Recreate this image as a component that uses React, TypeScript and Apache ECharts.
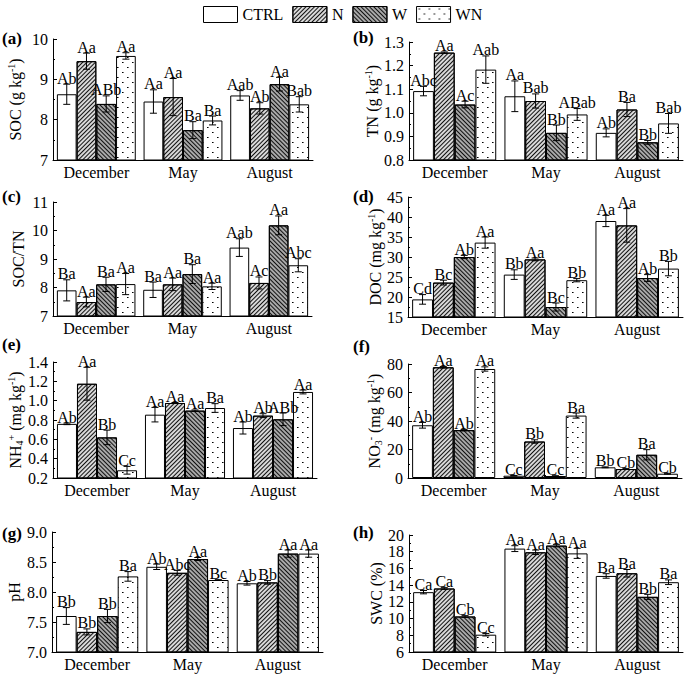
import React, { useEffect, useRef } from 'react';
import * as echarts from 'echarts';

const FONT = 'Liberation Serif';
const MONTHS = ['December', 'May', 'August'];
const TREATMENTS = ['CTRL', 'N', 'W', 'WN'];

// Rows: CTRL, N, W, WN ; columns: December, May, August
const socMean = [[8.63, 8.45, 8.6], [9.45, 8.56, 8.28], [8.39, 7.74, 8.88], [9.58, 7.98, 8.38]];
const socErr = [[0.25, 0.29, 0.12], [0.2, 0.46, 0.14], [0.2, 0.21, 0.17], [0.08, 0.11, 0.19]];
const socLetters = [['Ab', 'Aa', 'Aab'], ['Aa', 'Aa', 'Ab'], ['ABb', 'Ba', 'Aa'], ['Aa', 'Ba', 'Bab']];

const tnMean = [[1.092, 1.07, 0.915], [1.255, 1.05, 1.014], [1.035, 0.915, 0.875], [1.183, 0.993, 0.955]];
const tnErr = [[0.02, 0.065, 0.017], [0.003, 0.03, 0.03], [0.014, 0.033, 0.008], [0.058, 0.025, 0.042]];
const tnLetters = [['Abc', 'Aa', 'Ab'], ['Aa', 'Bab', 'Ba'], ['Ac', 'Bb', 'Bb'], ['Aab', 'ABab', 'Bab']];

const ratioMean = [[7.9, 7.92, 9.4], [7.49, 8.11, 8.16], [8.11, 8.47, 10.18], [8.12, 8.04, 8.78]];
const ratioErr = [[0.37, 0.27, 0.31], [0.17, 0.22, 0.21], [0.25, 0.33, 0.33], [0.37, 0.11, 0.23]];
const ratioLetters = [['Ba', 'Ba', 'Aab'], ['Aa', 'Aa', 'Ac'], ['Ba', 'Ba', 'Aa'], ['Aa', 'Aa', 'Abc']];

const docMean = [[19.4, 25.6, 39.0], [23.6, 29.4, 37.9], [30.0, 17.5, 24.75], [33.6, 24.2, 27.1]];
const docErr = [[1.2, 1.2, 1.4], [0.6, 0.35, 4.2], [0.4, 1.0, 0.85], [1.4, 0.4, 1.8]];
const docLetters = [['Cd', 'Bb', 'Aa'], ['Bc', 'Aa', 'Aa'], ['Ab', 'Bc', 'Ab'], ['Aa', 'Bb', 'Bb']];

const nh4Mean = [[0.76, 0.855, 0.717], [1.175, 0.976, 0.845], [0.62, 0.897, 0.807], [0.28, 0.924, 1.09]];
const nh4Err = [[0.008, 0.075, 0.062], [0.17, 0.005, 0.02], [0.075, 0.007, 0.065], [0.04, 0.045, 0.02]];
const nh4Letters = [['Ab', 'Aa', 'Ab'], ['Aa', 'Aa', 'Ab'], ['Bb', 'Aa', 'ABb'], ['Cc', 'Ba', 'Aa']];

const no3Mean = [[37.0, 1.6, 7.5], [77.7, 25.6, 6.3], [33.6, 1.4, 16.3], [76.5, 43.8, 3.0]];
const no3Err = [[2.0, 0.2, 0.3], [0.5, 1.2, 0.3], [0.5, 0.2, 3.6], [1.5, 1.8, 0.3]];
const no3Letters = [['Ab', 'Cc', 'Bb'], ['Aa', 'Bb', 'Cb'], ['Ab', 'Cc', 'Ba'], ['Aa', 'Ba', 'Cb']];

const phMean = [[7.6, 8.42, 8.145], [7.335, 8.32, 8.16], [7.6, 8.55, 8.64], [8.26, 8.2, 8.64]];
const phErr = [[0.14, 0.045, 0.03], [0.05, 0.04, 0.03], [0.11, 0.025, 0.06], [0.08, 0.005, 0.06]];
const phLetters = [['Bb', 'Ab', 'Ab'], ['Bb', 'Abc', 'Bb'], ['Bb', 'Aa', 'Aa'], ['Ba', 'Bc', 'Aa']];

const swcMean = [[13.16, 18.37, 15.1], [13.6, 17.93, 15.42], [10.25, 18.73, 12.6], [8.07, 17.8, 14.35]];
const swcErr = [[0.2, 0.35, 0.27], [0.1, 0.27, 0.45], [0.1, 0.15, 0.3], [0.15, 0.6, 0.28]];
const swcLetters = [['Ca', 'Aa', 'Ba'], ['Ca', 'Aa', 'Ba'], ['Cb', 'Aa', 'Bb'], ['Cc', 'Aa', 'Ba']];

// axis settings per panel: [min, max, interval, decimals]
const socAxis = [7, 10, 1, 0];
const tnAxis = [0.8, 1.3, 0.1, 1];
const ratioAxis = [7, 11, 1, 0];
const docAxis = [15, 45, 5, 0];
const nh4Axis = [0.2, 1.4, 0.2, 1];
const no3Axis = [0, 80, 20, 0];
const phAxis = [7, 9, 0.5, 1];
const swcAxis = [6, 20, 2, 0];

const PANELS = [
  { tag: '(a)', mean: socMean, err: socErr, letters: socLetters, axis: socAxis, name: '{n|SOC (g kg}{s|-1}{n|)}', grid: [53, 39, 260, 121], nameGap: 29, tagPos: [2, 38] },
  { tag: '(b)', mean: tnMean, err: tnErr, letters: tnLetters, axis: tnAxis, name: '{n|TN (g kg}{s|-1}{n|)}', grid: [409, 42, 274, 118], nameGap: 23, tagPos: [353, 37] },
  { tag: '(c)', mean: ratioMean, err: ratioErr, letters: ratioLetters, axis: ratioAxis, name: '{n|SOC/TN}', grid: [53, 202, 259, 114], nameGap: 26, tagPos: [2, 196] },
  { tag: '(d)', mean: docMean, err: docErr, letters: docLetters, axis: docAxis, name: '{n|DOC (mg kg}{s|-1}{n|)}', grid: [408, 197, 275, 120], nameGap: 23, tagPos: [353, 196] },
  { tag: '(e)', mean: nh4Mean, err: nh4Err, letters: nh4Letters, axis: nh4Axis, name: '{n|NH}{b|4}{s|+}{n| (mg kg}{s|-1}{n|)}', grid: [53, 362, 264, 116], nameGap: 29, tagPos: [2, 344] },
  { tag: '(f)', mean: no3Mean, err: no3Err, letters: no3Letters, axis: no3Axis, name: '{n|NO}{b|3}{s|-}{n| (mg kg}{s|-1}{n|)}', grid: [408, 364, 274, 114], nameGap: 22, tagPos: [353, 346] },
  { tag: '(g)', mean: phMean, err: phErr, letters: phLetters, axis: phAxis, name: '{n|pH}', grid: [52, 532, 271, 120], nameGap: 29, tagPos: [2, 533] },
  { tag: '(h)', mean: swcMean, err: swcErr, letters: swcLetters, axis: swcAxis, name: '{n|SWC (%)}', grid: [409, 535, 274, 117], nameGap: 21, tagPos: [353, 532] },
];

const CAT_GAP = 0.09;

function makeTile(w: number, h: number, fn: (x: number, y: number) => number | null) {
  const c = document.createElement('canvas');
  c.width = w;
  c.height = h;
  const ctx = c.getContext('2d')!;
  ctx.fillStyle = '#fff';
  ctx.fillRect(0, 0, w, h);
  const img = ctx.getImageData(0, 0, w, h);
  for (let y = 0; y < h; y++) {
    for (let x = 0; x < w; x++) {
      const v = fn(x, y);
      if (v != null) {
        const i = (y * w + x) * 4;
        img.data[i] = v;
        img.data[i + 1] = v;
        img.data[i + 2] = v;
        img.data[i + 3] = 255;
      }
    }
  }
  ctx.putImageData(img, 0, 0);
  return { image: c, repeat: 'repeat', imageWidth: w, imageHeight: h };
}

export default function App() {
  const ref = useRef<HTMLDivElement>(null);
  useEffect(() => {
    if (!ref.current) return;
    const chart = echarts.init(ref.current, null, { renderer: 'svg' });

    const itemStyles: any[] = [
      { color: '#ffffff' },
      {
        color: '#d8d8d8',
        decal: { symbol: 'rect', symbolSize: 1, symbolKeepAspect: false, color: '#111', dashArrayX: [1, 0], dashArrayY: [1, 2], rotation: -Math.PI / 4 },
      },
      {
        color: '#a8a8a8',
        decal: { symbol: 'rect', symbolSize: 1, symbolKeepAspect: false, color: '#111', dashArrayX: [1, 0], dashArrayY: [1, 2], rotation: Math.PI / 4 },
      },
      {
        color: makeTile(10, 10, (x, y) => ((x === 2 && y === 2) || (x === 7 && y === 7) ? 0 : (x === 3 && y === 2) || (x === 8 && y === 7) ? 110 : null)),
      },
    ];

    const grids: any[] = [];
    const xAxes: any[] = [];
    const yAxes: any[] = [];
    const series: any[] = [];
    const graphics: any[] = [];

    PANELS.forEach((p, gi) => {
      const [left, top, width, height] = p.grid;
      grids.push({ left, top, width, height, containLabel: false, outerBoundsMode: 'none' });
      xAxes.push({
        type: 'category',
        gridIndex: gi,
        data: MONTHS,
        axisLine: { show: true, lineStyle: { color: '#000', width: 1 } },
        axisTick: { show: true, alignWithLabel: true, inside: true, length: 3, lineStyle: { color: '#000' } },
        axisLabel: { fontSize: 16, color: '#000', margin: 4, fontFamily: FONT },
        splitLine: { show: false },
      });
      const [min, max, interval, dec] = p.axis;
      yAxes.push({
        type: 'value',
        gridIndex: gi,
        min,
        max,
        interval,
        axisLine: { show: true, lineStyle: { color: '#000', width: 1 } },
        axisTick: { show: true, inside: true, length: 4, lineStyle: { color: '#000' } },
        minorTick: { show: true, splitNumber: 2, length: 2, lineStyle: { color: '#000' } },
        splitLine: { show: false },
        minorSplitLine: { show: false },
        axisLabel: {
          fontSize: 16,
          color: '#000',
          margin: 5,
          fontFamily: FONT,
          formatter: (v: number) => v.toFixed(dec),
        },
        name: p.name,
        nameLocation: 'middle',
        nameGap: p.nameGap,
        nameTextStyle: {
          color: '#000',
          fontFamily: FONT,
          fontSize: 16,
          rich: {
            n: { fontSize: 16, fontFamily: FONT, color: '#000', lineHeight: 18 },
            s: { fontSize: 10, fontFamily: FONT, color: '#000', lineHeight: 10, verticalAlign: 'top' },
            b: { fontSize: 10, fontFamily: FONT, color: '#000', lineHeight: 10, verticalAlign: 'bottom' },
          },
        },
      });
      TREATMENTS.forEach((t, ti) => {
        series.push({
          type: 'bar',
          name: t,
          xAxisIndex: gi,
          yAxisIndex: gi,
          data: p.mean[ti],
          barGap: '0%',
          barCategoryGap: CAT_GAP * 100 + '%',
          itemStyle: { ...itemStyles[ti], borderColor: '#000', borderWidth: 1 },
          emphasis: { disabled: true },
        });
      });
      const errData: number[][] = [];
      const labels: string[] = [];
      TREATMENTS.forEach((_, ti) => {
        MONTHS.forEach((_, mi) => {
          errData.push([mi, ti, p.mean[ti][mi], p.err[ti][mi]]);
          labels.push(p.letters[ti][mi]);
        });
      });
      series.push({
        type: 'custom',
        xAxisIndex: gi,
        yAxisIndex: gi,
        data: errData,
        encode: { x: 0, y: 2 },
        z: 5,
        silent: true,
        renderItem: (params: any, api: any) => {
          const m = api.value(0);
          const t = api.value(1);
          const v = api.value(2);
          const e = api.value(3);
          const c = api.coord([m, v]);
          const bw = (api.size([1, 0])[0] * (1 - CAT_GAP)) / 4;
          const x = c[0] + (t - 1.5) * bw;
          const yt = api.coord([m, v + e])[1];
          const yb = api.coord([m, v - e])[1];
          const cap = 3.5;
          const ls = { stroke: '#000', lineWidth: 1 };
          return {
            type: 'group',
            children: [
              { type: 'line', shape: { x1: x, y1: yt, x2: x, y2: yb }, style: ls },
              { type: 'line', shape: { x1: x - cap, y1: yt, x2: x + cap, y2: yt }, style: ls },
              { type: 'line', shape: { x1: x - cap, y1: yb, x2: x + cap, y2: yb }, style: ls },
              {
                type: 'text',
                x,
                y: yt + 2,
                style: {
                  text: labels[params.dataIndex],
                  fontSize: 16,
                  fontFamily: FONT,
                  fill: '#000',
                  align: 'center',
                  verticalAlign: 'bottom',
                },
              },
            ],
          };
        },
      });
      graphics.push({
        type: 'text',
        x: p.tagPos[0],
        y: p.tagPos[1],
        style: {
          text: p.tag,
          fontSize: 17,
          fontWeight: 'bold',
          fontFamily: FONT,
          fill: '#000',
          verticalAlign: 'middle',
        },
      });
    });

    chart.setOption({
      animation: false,
      backgroundColor: '#fff',
      textStyle: { fontFamily: FONT },
      legend: {
        data: TREATMENTS,
        left: 198,
        top: 1,
        itemWidth: 34,
        itemHeight: 16,
        itemGap: 9,
        icon: 'rect',
        selectedMode: false,
        itemStyle: { borderColor: '#000', borderWidth: 1 },
        textStyle: { fontFamily: FONT, fontSize: 16, color: '#000' },
      },
      grid: grids,
      xAxis: xAxes,
      yAxis: yAxes,
      series,
      graphic: graphics,
    });
    return () => chart.dispose();
  }, []);
  return <div ref={ref} style={{ position: 'absolute', left: 0, top: 0, width: 685, height: 675 }} />;
}
